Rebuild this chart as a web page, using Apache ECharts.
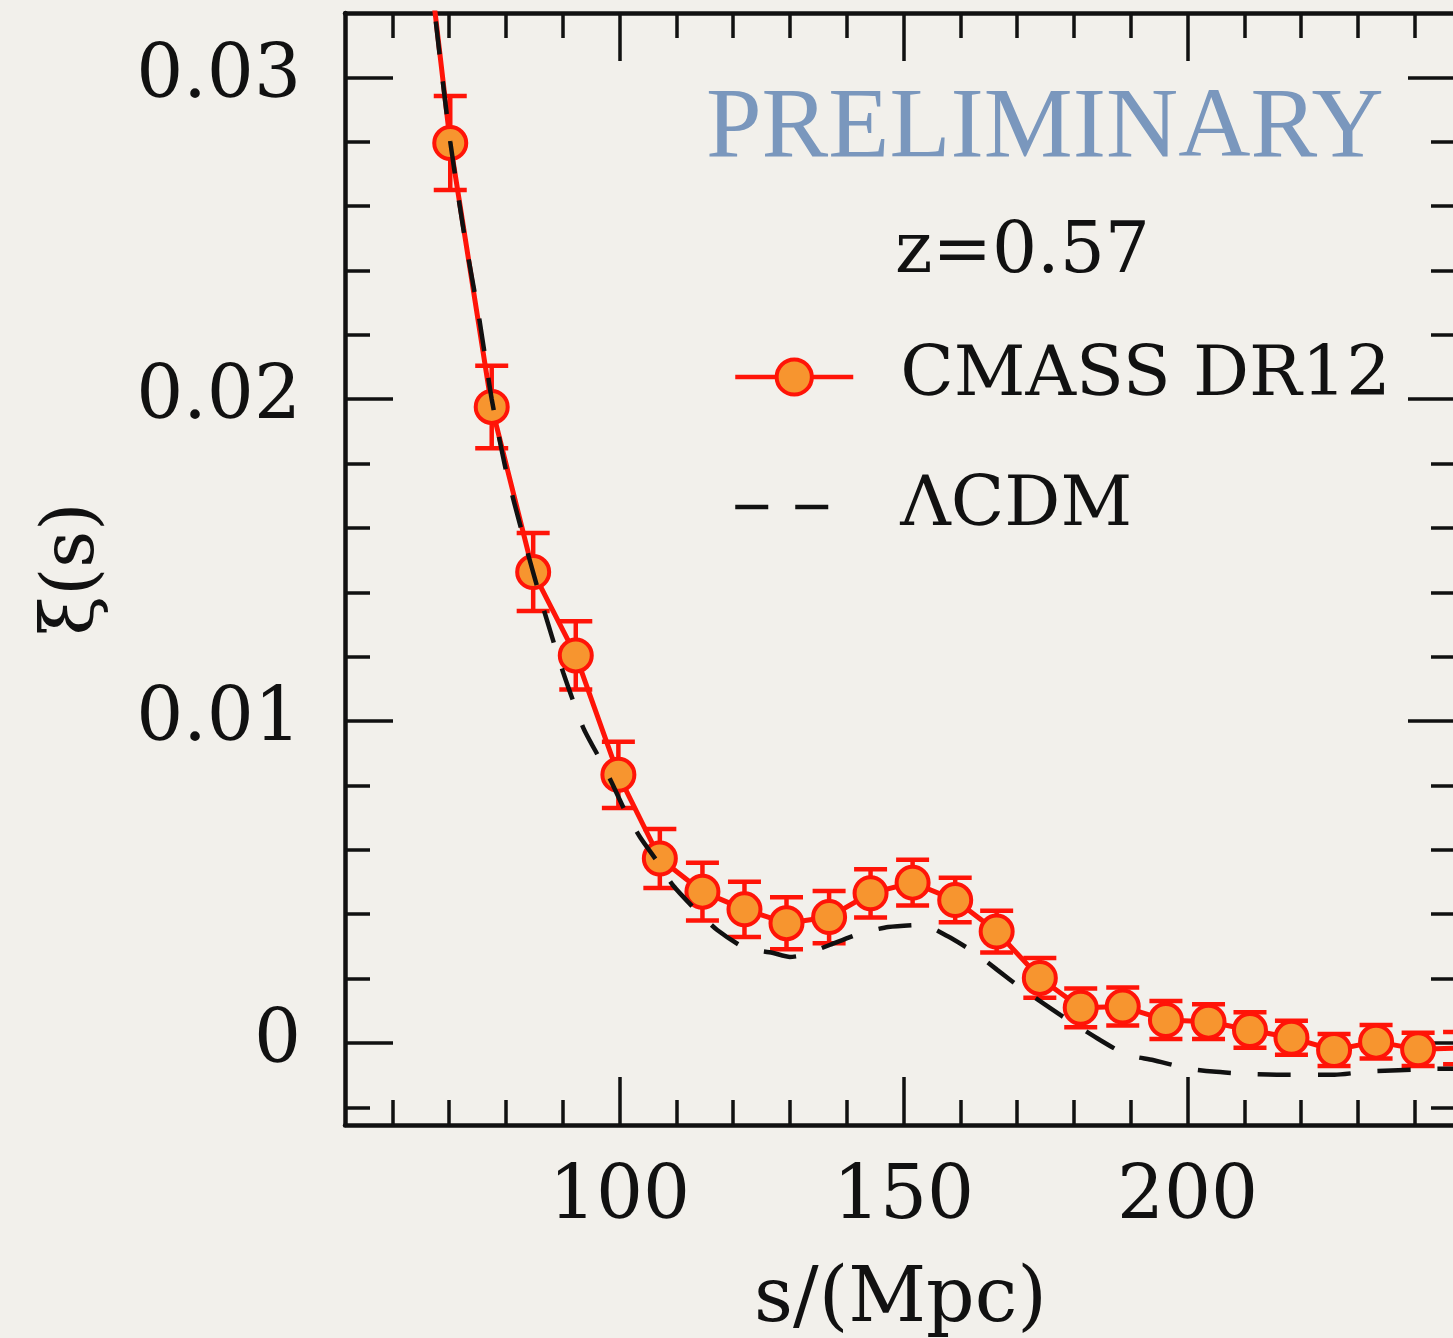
<!DOCTYPE html>
<html>
<head>
<meta charset="utf-8">
<script src="https://cdn.jsdelivr.net/npm/echarts@6/dist/echarts.min.js"></script>
<style>
html,body{margin:0;padding:0;background:#f2f0eb;}
#c{width:1453px;height:1338px;}
</style>
</head>
<body>
<div id="c"></div>
<script>
// ---- data ----
const sData = [62.8, 70.2, 77.5, 84.8, 92.3, 99.8, 107.1, 114.6, 122.0, 129.4, 136.9, 144.2, 151.6, 159.1, 166.4, 174.0, 181.2, 188.6, 196.2, 203.7, 211.0, 218.3, 225.8, 233.2, 240.6, 247.9];
const xiData = [0.0392, 0.02796, 0.01976, 0.01463, 0.01204, 0.00833, 0.00573, 0.0047, 0.00415, 0.00372, 0.00391, 0.00465, 0.00498, 0.00444, 0.00346, 0.00202, 0.00109, 0.00113, 0.00071, 0.00066, 0.0004, 0.00016, -0.00022, 0.00004, -0.0002, -0.00016];
const xiErr = [0.0017, 0.00146, 0.00128, 0.00121, 0.00106, 0.00103, 0.00092, 0.0009, 0.00086, 0.00081, 0.00081, 0.00075, 0.00071, 0.00069, 0.00065, 0.00062, 0.0006, 0.00059, 0.00059, 0.00054, 0.00055, 0.00053, 0.0005, 0.00052, 0.00052, 0.0005];

const sModel = [64.9, 67.5, 70.2, 72.5, 75.4, 77.5, 80.0, 83.1, 86.6, 90.1, 93.6, 96.6, 98.6, 101.0, 103.6, 106.8, 109.4, 113.6, 117.2, 122.1, 126.9, 130.0, 132.3, 137.1, 142.7, 147.3, 153.3, 157.7, 162.6, 166.5, 170.9, 177.6, 184.6, 189.3, 193.9, 199.9, 204.5, 210.4, 218.0, 225.9, 231.7, 242.6, 250.0];
const xiModel = [0.0373, 0.0320, 0.0280, 0.0253, 0.0224, 0.0200, 0.0178, 0.0157, 0.0135, 0.0115, 0.0098, 0.0088, 0.0081, 0.0072, 0.0064, 0.0056, 0.0049, 0.0041, 0.00351, 0.00295, 0.0028, 0.00267, 0.00273, 0.00305, 0.00342, 0.0036, 0.00367, 0.00332, 0.0028, 0.00227, 0.00168, 0.00087, 0.00009, -0.00037, -0.00053, -0.00079, -0.00089, -0.00096, -0.00099, -0.00099, -0.00089, -0.00081, -0.0008];

const xMinorTicks = [60, 70, 80, 90, 100, 110, 120, 130, 140, 150, 160, 170, 180, 190, 200, 210, 220, 230, 240];
const xMajorTicks = [100, 150, 200];
const yMinorTicks = [-0.002, 0, 0.002, 0.004, 0.006, 0.008, 0.01, 0.012, 0.014, 0.016, 0.018, 0.02, 0.022, 0.024, 0.026, 0.028, 0.03];
const yMajorTicks = [0, 0.01, 0.02, 0.03];

const seriesNames = ['CMASS DR12', 'ΛCDM'];
const redshiftText = 'z=0.57';
const stampText = 'PRELIMINARY';
const xName = 's/(Mpc)';
const yName = 'ξ(s)';

// ---- styling ----
const RED = '#ff1408';
const ORANGE = '#f7952f';
const INK = '#111111';
const SERIF = 'DejaVu Serif';
const X_MIN = 51.67, X_MAX = 247.27;
const Y_MIN = -0.00255, Y_MAX = 0.0320;

function xAxisDef(pos, ticks, len, opts) {
  return Object.assign({
    type: 'value', position: pos, min: X_MIN, max: X_MAX,
    axisLine: { show: false, onZero: false, lineStyle: { color: INK, width: 4.5 } },
    axisTick: { show: true, inside: true, length: len, customValues: ticks, lineStyle: { color: INK, width: 3.5 } },
    axisLabel: { show: false },
    splitLine: { show: false }, minorTick: { show: false }
  }, opts || {});
}
function yAxisDef(pos, ticks, len, opts) {
  return Object.assign({
    type: 'value', position: pos, min: Y_MIN, max: Y_MAX,
    axisLine: { show: false, onZero: false, lineStyle: { color: INK, width: 4.5 } },
    axisTick: { show: true, inside: true, length: len, customValues: ticks, lineStyle: { color: INK, width: 3.5 } },
    axisLabel: { show: false },
    splitLine: { show: false }, minorTick: { show: false }
  }, opts || {});
}

const chart = echarts.init(document.getElementById('c'), null, { renderer: 'canvas' });

const errData = sData.map((s, i) => [s, xiData[i] - xiErr[i], xiData[i] + xiErr[i]]);
const frameLine = { show: true, onZero: false, lineStyle: { color: INK, width: 4.5 } };

chart.setOption({
  animation: false,
  backgroundColor: '#f2f0eb',
  grid: { left: 345, top: 13, right: -3, bottom: 213, outerBoundsMode: 'none', containLabel: false },
  xAxis: [
    xAxisDef('bottom', xMinorTicks, 25, {
      axisLine: frameLine,
      axisLabel: {
        show: true, customValues: xMajorTicks, margin: 37,
        fontFamily: SERIF, fontSize: 74, color: INK
      },
      name: xName, nameLocation: 'middle', nameGap: 138,
      nameTextStyle: { fontFamily: SERIF, fontSize: 76, color: INK }
    }),
    xAxisDef('bottom', xMajorTicks, 48),
    xAxisDef('top', xMinorTicks, 25, { axisLine: frameLine }),
    xAxisDef('top', xMajorTicks, 48)
  ],
  yAxis: [
    yAxisDef('left', yMinorTicks, 25, {
      axisLine: frameLine,
      axisLabel: {
        show: true, customValues: yMajorTicks, margin: 44,
        fontFamily: SERIF, fontSize: 74, color: INK,
        formatter: v => (Math.abs(v) < 1e-9 ? '0' : v.toFixed(2))
      },
      name: yName, nameLocation: 'middle', nameGap: 235, nameRotate: 90,
      nameTextStyle: { fontFamily: SERIF, fontSize: 72, color: INK }
    }),
    yAxisDef('left', yMajorTicks, 48),
    yAxisDef('right', yMinorTicks, 25, { axisLine: frameLine }),
    yAxisDef('right', yMajorTicks, 48)
  ],
  legend: {
    orient: 'vertical', left: 728, top: 337,
    itemWidth: 118, itemHeight: 44, itemGap: 60,
    selectedMode: false,
    textStyle: { fontFamily: SERIF, fontSize: 70, color: INK, padding: [0, 0, 0, 42] },
    data: [
      { name: seriesNames[0],
        lineStyle: { color: RED, width: 4.5 },
        itemStyle: { color: ORANGE, borderColor: RED, borderWidth: 4 } },
      { name: seriesNames[1],
        lineStyle: { color: INK, width: 4.5, type: [33, 27] },
        itemStyle: { color: 'rgba(0,0,0,0)', borderWidth: 0, opacity: 0 } }
    ]
  },
  graphic: [
    { type: 'text', left: 706, top: 80, z: 10,
      style: { text: stampText, font: '100px "Liberation Serif"', fill: '#7a97bd' } },
    { type: 'text', left: 895, top: 218, z: 10,
      style: { text: redshiftText, font: '71px "DejaVu Serif"', fill: INK } }
  ],
  series: [
    {
      type: 'custom', name: 'err', xAxisIndex: 0, yAxisIndex: 0, clip: true, z: 2,
      encode: { x: 0, y: [1, 2] },
      data: errData,
      renderItem: function (params, api) {
        const x = api.value(0);
        const pLo = api.coord([x, api.value(1)]);
        const pHi = api.coord([x, api.value(2)]);
        const hw = 16.5;
        const st = { stroke: RED, lineWidth: 4.5 };
        return {
          type: 'group',
          children: [
            { type: 'line', shape: { x1: pLo[0], y1: pLo[1], x2: pHi[0], y2: pHi[1] }, style: st },
            { type: 'line', shape: { x1: pLo[0] - hw, y1: pLo[1], x2: pLo[0] + hw, y2: pLo[1] }, style: st },
            { type: 'line', shape: { x1: pHi[0] - hw, y1: pHi[1], x2: pHi[0] + hw, y2: pHi[1] }, style: st }
          ]
        };
      }
    },
    {
      type: 'line', name: seriesNames[0], xAxisIndex: 0, yAxisIndex: 0, clip: true, z: 3,
      data: sData.map((s, i) => [s, xiData[i]]),
      symbol: 'circle', symbolSize: 32, showAllSymbol: true,
      lineStyle: { color: RED, width: 5 },
      itemStyle: { color: ORANGE, borderColor: RED, borderWidth: 4 },
      emphasis: { disabled: true }
    },
    {
      type: 'line', name: seriesNames[1], xAxisIndex: 0, yAxisIndex: 0, clip: true, z: 5,
      data: sModel.map((s, i) => [s, xiModel[i]]),
      symbol: 'none', smooth: 0.2,
      lineStyle: { color: INK, width: 4.5, type: [33, 27] },
      itemStyle: { color: INK },
      emphasis: { disabled: true }
    }
  ]
});
</script>
</body>
</html>
